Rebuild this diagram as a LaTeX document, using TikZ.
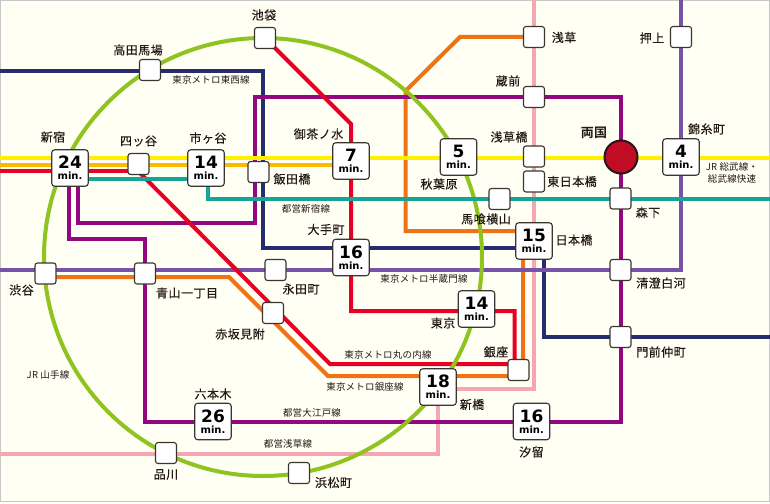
\documentclass[tikz,border=0pt]{standalone}
\usepackage{fontspec}
\setmainfont{Noto Sans CJK JP}
\newfontfamily\stfont[LetterSpace=4,FakeBold=0.25]{Noto Sans CJK JP}
\newfontfamily\lnfont[LetterSpace=2]{Noto Sans CJK JP}
\newfontfamily\numfont{DejaVu Sans Bold}
\newfontfamily\bigfont[LetterSpace=2]{Noto Sans CJK JP Bold}
\usetikzlibrary{backgrounds}
\definecolor{bgc}{HTML}{FFFFF3}
\definecolor{cyel}{HTML}{FFF000}
\definecolor{cgold}{HTML}{FCB900}
\definecolor{cred}{HTML}{E60023}
\definecolor{cteal}{HTML}{14A598}
\definecolor{cnavy}{HTML}{262C6E}
\definecolor{cpur}{HTML}{930783}
\definecolor{corg}{HTML}{EE7316}
\definecolor{cpink}{HTML}{F5A6B2}
\definecolor{cvio}{HTML}{7653A6}
\definecolor{cgrn}{HTML}{8FC31F}
\definecolor{cedge}{HTML}{3A3530}
\definecolor{ctxt}{HTML}{231815}
\definecolor{cdot}{HTML}{C00D23}
\tikzset{
 x=1pt,y=-1pt,
 st/.style={draw=cedge,fill=white,line width=1.1pt,rounded corners=2.5pt,minimum size=21pt,inner sep=0pt},
 bigst/.style={draw=cedge,fill=white,line width=1.1pt,rounded corners=3pt,minimum size=36.5pt,inner sep=0pt,align=center,text=black},
 lab/.style={inner sep=0pt,text=ctxt,font=\fontsize{12}{13}\selectfont\stfont},
 lin/.style={inner sep=0pt,text=ctxt,align=center,font=\fontsize{9.5}{12}\selectfont\lnfont},
 rail/.style={line width=4pt,miter limit=10,line join=miter},
}
\newcommand{\mins}[1]{\raisebox{1.5pt}{\fontsize{17}{15}\selectfont\numfont #1}\\[-2.5pt]{\fontsize{10}{9}\selectfont\numfont min.}}
\begin{document}
\begin{tikzpicture}
\useasboundingbox (0,0) rectangle (770,503);
% stations
\node[st] (ikebukuro) at (265,38) {};
\node[st] (takada) at (150,70) {};
\node[bigst] (shinjuku) at (70,168) {\mins{24}};
\node[st] (yotsuya) at (138.5,164) {};
\node[bigst] (ichigaya) at (206,168) {\mins{14}};
\node[st] (iidabashi) at (258.5,172) {};
\node[bigst] (ochanomizu) at (351,161) {\mins{7}};
\node[bigst] (otemachi) at (351,257.5) {\mins{16}};
\node[bigst] (akihabara) at (458.5,157) {\mins{5}};
\node[st] (asakusabashi) at (534,156.5) {};
\node[st] (higashinihombashi) at (534,181.5) {};
\node[st] (bakuro) at (499.5,199) {};
\node[st] (morishita) at (620.5,198.5) {};
\node[circle,draw=ctxt,fill=cdot,line width=2pt,minimum size=33pt,inner sep=0pt] (ryogoku) at (621,157) {};
\node[bigst] (kinshicho) at (681,157) {\mins{4}};
\node[st] (asakusa) at (534,37) {};
\node[st] (oshiage) at (681,37) {};
\node[st] (kuramae) at (534,97) {};
\node[bigst] (nihombashi) at (534,241) {\mins{15}};
\node[st] (shibuya) at (45.5,273.5) {};
\node[st] (aoyama) at (145,273.5) {};
\node[st] (nagatacho) at (275.5,270) {};
\node[st] (akasaka) at (273,313) {};
\node[bigst] (tokyo) at (476.5,309) {\mins{14}};
\node[st] (ginza) at (518.5,370) {};
\node[bigst] (shimbashi) at (438,387) {\mins{18}};
\node[bigst] (shiodome) at (531.5,421.5) {\mins{16}};
\node[bigst] (roppongi) at (213,421.5) {\mins{26}};
\node[st] (shinagawa) at (166,453) {};
\node[st] (hamamatsucho) at (299,473) {};
\node[st] (kiyosumi) at (620.5,270) {};
\node[st] (monzen) at (620.5,337) {};
% lines
\begin{scope}[on background layer]
\fill[bgc] (0,0) rectangle (770,503);
\draw[black!22,line width=1pt] (0.5,0.5) rectangle (769.5,501.7);
\draw[rail,cpink] (533.5,0) -- (533.5,388.5) -- (438,388.5) -- (438,453.5) -- (0,453.5);
\draw[rail,cnavy] (0,70.5) -- (263,70.5) -- (263,248) -- (544,248) -- (544,337) -- (770,337);
\draw[rail,corg] (asakusa.center) -- (460,37) -- (405.5,91) -- (405.5,231) -- (nihombashi.center |- 0,231);
\draw[rail,corg] (523,241) -- (523,376) -- (328,376) -- (229,277) -- (45.5,277);
\draw[rail,cvio] (0,269.5) -- (680.5,269.5) -- (680.5,0);
\draw[rail,cpur] (78,168) -- (78,223) -- (255,223) -- (255,97) -- (621,97) -- (621,421.5) -- (145,421.5) -- (145,239) -- (69,239) -- (69,168);
\draw[rail,cred] (0,171) -- (138,171);
\draw[rail,cred] (ikebukuro.center) -- (351,124) -- (351,311) -- (514.5,311) -- (514.5,364) -- (330,364) -- (138,171);
\draw[rail,cgrn] (263,257) circle[radius=219];
\draw[rail,cteal] (shinjuku.center |- 0,178.5) -- (208,178.5) -- (208,199) -- (770,199);
\draw[rail,cgold] (0,164.5) -- (ochanomizu.center |- 0,164.5);
\draw[rail,cyel] (0,157.5) -- (770,157.5);
\end{scope}
% labels
\foreach \px/\py/\t/\n in {
 264/15/池袋/a1,138/50/高田馬場/a2,53/137/新宿/a3,138.5/141/四ッ谷/a4,208/138/市ヶ谷/a5,292/179/飯田橋/a6,
 318.5/134/御茶ノ水/a7,326/229.5/大手町/a8,439/184/秋葉原/a9,509/137/浅草橋/a10,508/81/蔵前/a11,564/37.5/浅草/a12,
 652/38/押上/a13,706.5/129/錦糸町/a14,572/181.5/東日本橋/a15,486/219/馬喰横山/a16,648/212.5/森下/a17,574/240/日本橋/a18,
 21.5/290/渋谷/a19,187/293/青山一丁目/a20,301/289/永田町/a21,240/334/赤坂見附/a22,443/323/東京/a23,496/352/銀座/a24,
 472/404.5/新橋/a25,213/394/六本木/a26,166/474.5/品川/a27,333.5/482.5/浜松町/a28,531.5/452/汐留/a29,661/283/清澄白河/a30,661/352/門前仲町/a31}
 {\node[lab] (\n) at (\px,\py) {\t};}
\node[inner sep=0pt,text=ctxt,font=\fontsize{13}{14}\selectfont\bigfont] (a32) at (594,132.5) {両国};
\foreach \px/\py/\t/\n in {
 211/80/東京メトロ東西線/b1,306/209/都営新宿線/b2,424/278.5/東京メトロ半蔵門線/b3,388/354.5/東京メトロ丸の内線/b4,
 365/386.5/東京メトロ銀座線/b5,48/375/JR 山手線/b6,312/412.5/都営大江戸線/b7,288/443.5/都営浅草線/b8}
 {\node[lin] (\n) at (\px,\py) {\t};}
\node[lin] (b9) at (732,173) {JR 総武線・\\総武線快速};
\end{tikzpicture}
\end{document}
